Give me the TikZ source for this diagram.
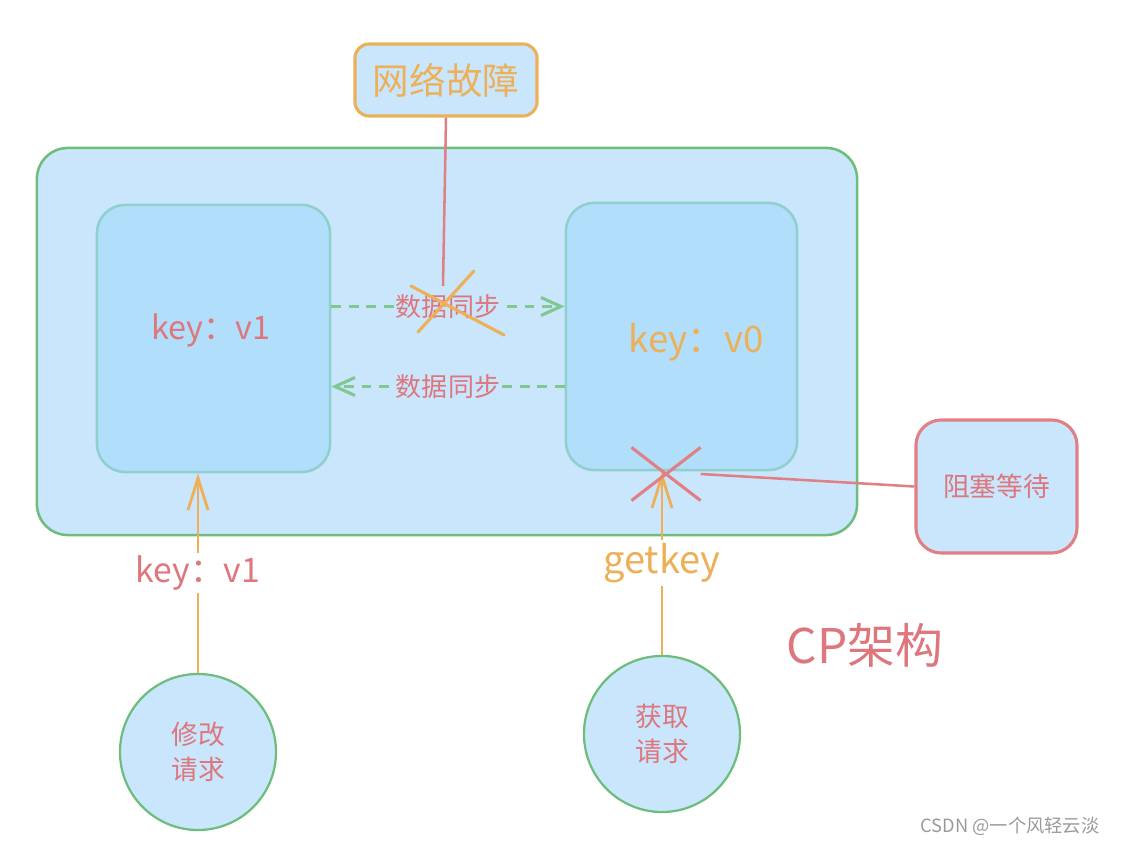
\documentclass[tikz,border=0pt]{standalone}
\usepackage{fontspec}
\setmainfont{Noto Sans CJK SC}
\usetikzlibrary{arrows.meta,positioning,calc,shapes.misc}
\definecolor{cpsky}{HTML}{C9E6FC}
\definecolor{cpinner}{HTML}{B1DEFB}
\definecolor{cpgreen}{HTML}{6DBD7C}
\definecolor{cpteal}{HTML}{8FD0CC}
\definecolor{cpred}{HTML}{DE767D}
\definecolor{cpline}{HTML}{E07F84}
\definecolor{cporange}{HTML}{EDB059}
\definecolor{cpgray}{HTML}{9A9A9A}
\tikzset{
  outerbox/.style={draw=cpgreen, line width=1.8pt, fill=cpsky, rounded corners=22pt},
  keybox/.style={draw=cpteal, line width=1.8pt, fill=cpinner, rounded corners=20pt},
  faultbox/.style={draw=cporange, line width=2.2pt, fill=cpsky, rounded corners=10pt,
                   text=cporange, font=\fontsize{26}{30}\selectfont},
  blockbox/.style={draw=cpline, line width=2.2pt, fill=cpsky, rounded corners=18pt,
                   text=cpred, font=\fontsize{19}{23}\selectfont},
  reqcircle/.style={circle, draw=cpgreen, line width=1.6pt, fill=cpsky, align=center,
                    text=cpred, font=\fontsize{19}{25}\selectfont},
  keytext/.style={font=\fontsize{#1}{#1}\selectfont},
  synclabel/.style={fill=cpsky, inner sep=1pt, text=cpred, font=\fontsize{18.5}{22}\selectfont},
  syncarr/.style={-{Straight Barb[length=5mm, width=4.5mm]}, line width=2.2pt,
                  color=cpgreen!85, dash pattern=on 7pt off 5.5pt},
  reqarr/.style={-{Straight Barb[length=8mm, width=5mm]}, line width=2pt, color=cporange},
  cutmark/.style={cross out, draw, line width=2.2pt, inner sep=0pt}}

\begin{document}
\begin{tikzpicture}[x=0.025cm, y=-0.025cm]
  \useasboundingbox (0,0) rectangle (1121,845);
  % the cluster
  \node[outerbox, minimum width=20.5cm, minimum height=9.675cm] (cluster) at (447,341.5) {};
  \node[keybox, minimum width=5.825cm, minimum height=6.675cm] (leftbox) at (213.5,338.5) {};
  \node[keybox, minimum width=5.775cm, minimum height=6.675cm] (rightbox) at (681.5,336.5) {};
  \node[keytext=23, text=cpred] (leftkey) at (211,330) {key：v1};
  \node[keytext=26, text=cporange] (rightkey) at (696,342) {key：v0};
  % replication between the two nodes
  \draw[syncarr] ([yshift=0.8cm]leftbox.east) -- ([yshift=0.8cm]leftbox.east -| rightbox.west)
    node[synclabel, midway] (syncup) {数据同步};
  \draw[syncarr] ([yshift=-1.25cm]rightbox.west) -- ([yshift=-1.25cm]rightbox.west -| leftbox.east)
    node[synclabel, midway] (syncdown) {数据同步};
  % the partition
  \node[faultbox, minimum width=4.55cm, minimum height=1.8cm] (fault) at (446,80) {网络故障};
  \coordinate (cut) at (444,302);
  \draw[cporange, line width=2.2pt, line cap=round]
    ($(cut)+(-33,-16)$) -- ($(cut)+(60,33)$)
    ($(cut)+(30,-31)$) -- ($(cut)+(-26,30)$);
  \draw[cpline, line width=1.8pt] (fault.south) -- ($(cut)+(-1,-16)$);
  % clients
  \node[reqcircle, minimum size=3.9cm] (modreq) at (198,752) {修改\\请求};
  \node[reqcircle, minimum size=3.9cm] (getreq) at (662,734) {获取\\请求};
  \draw[reqarr] (modreq.north) -- (modreq.north |- leftbox.south)
    node[midway, fill=white, inner sep=2pt, keytext=24, text=cpred] (modlabel) {key：v1};
  \draw[reqarr] (getreq.north) -- (getreq.north |- rightbox.south)
    node[midway, fill=white, inner sep=2pt, keytext=27, text=cporange] (getlabel) {getkey};
  % the read is blocked
  \node[cutmark, draw=cpline, minimum width=1.65cm, minimum height=1.25cm] (stop) at (666,474) {};
  \node[blockbox, minimum width=4.025cm, minimum height=3.325cm] (block) at (996.5,486.5) {阻塞等待};
  \draw[cpline, line width=1.8pt] (stop.east) -- (block.west);
  \node[text=cpred, font=\fontsize{34}{40}\selectfont] (title) at (865,645) {CP架构};
  \node[text=cpgray, font=\fontsize{13}{15}\selectfont] (mark) at (1010,826) {CSDN @一个风轻云淡};
\end{tikzpicture}
\end{document}
